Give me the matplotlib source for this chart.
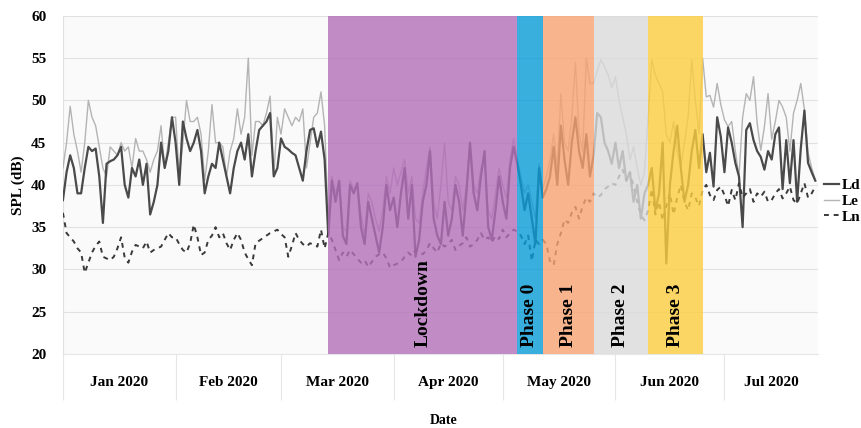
import numpy as np
import pandas as pd
import matplotlib
matplotlib.use('Agg')
import matplotlib.pyplot as plt
import matplotlib.dates as mdates

plt.rcParams['font.family'] = ['Liberation Serif', 'DejaVu Serif']
plt.rcParams['font.weight'] = 'bold'

# daily values, 1 Jan 2020 .. 26 Jul 2020
start_date = '2020-01-01'

ld = [
    # Jan
    38.2, 41.5, 43.5, 42.0, 39.0, 39.0, 42.0, 44.5, 44.0, 44.3, 41.0, 35.5, 42.5, 42.8, 43.0, 43.5,
    44.5, 40.0, 38.5, 42.0, 41.0, 43.0, 40.0, 42.5, 36.5, 38.0, 40.0, 45.0, 42.0, 44.0, 48.0,
    # Feb
    45.0, 40.0, 47.5, 45.5, 44.0, 45.0, 46.5, 44.0, 39.0, 41.0, 42.5, 42.0, 45.0, 43.0, 41.0,
    39.0, 42.0, 44.0, 45.0, 43.0, 46.0, 41.0, 44.0, 46.5, 47.0, 47.5, 48.5, 41.0, 42.0,
    # Mar 1-13
    45.5, 44.5, 44.2, 43.8, 43.5, 42.0, 40.5, 44.0, 46.5, 46.7, 44.5, 46.3, 43.0,
    # lockdown
    34.0, 40.5, 38.0, 40.5, 34.0, 33.0, 40.0, 39.0, 40.2, 35.0, 33.0, 38.0, 36.0, 34.0, 32.0,
    35.0, 40.0, 37.0, 38.5, 35.0, 39.0, 42.0, 36.0, 40.0, 31.5, 33.5, 38.0, 40.0, 44.0, 36.0,
    34.0, 33.0, 38.0, 34.0, 36.0, 40.0, 38.0, 34.0, 39.0, 45.0, 39.0, 37.0, 41.0, 44.0, 35.0,
    33.5, 37.0, 41.0, 38.0, 36.0, 42.0, 44.5,
    # phase 0
    42.5, 40.0, 37.0, 39.0, 36.0, 33.0, 42.0,
    # phase 1
    38.5, 39.5, 41.0, 44.5, 40.0, 47.0, 43.0, 40.0, 45.0, 48.0, 44.0, 42.0, 46.0, 41.0,
    # phase 2
    43.5, 48.5, 48.0, 45.0, 44.0, 42.5, 45.0, 42.0, 44.0, 40.5, 41.5, 38.0, 40.0, 36.0, 39.0,
    # phase 3
    40.0, 42.0, 37.0, 39.0, 45.0, 30.7, 40.0, 44.0, 47.0, 42.0, 38.0, 40.0, 44.0, 46.5, 42.0,
    # after
    46.0, 41.5, 43.8, 39.8, 48.0, 45.7, 41.5, 46.8, 45.0, 42.6, 41.0, 35.0, 46.5, 47.3, 45.3,
    44.0, 43.3, 41.8, 44.0, 43.0, 46.0, 46.8, 39.5, 45.3, 40.2, 45.3, 38.0, 44.3, 48.8, 42.6,
    41.5, 40.5,
]

le = [
    # Jan
    42.0, 45.0, 49.3, 46.0, 44.0, 41.5, 45.0, 50.0, 48.0, 47.0, 44.5, 42.0, 41.0, 44.5, 44.0, 43.5,
    45.0, 44.0, 44.5, 42.0, 45.5, 44.0, 44.0, 43.0, 41.5, 43.0, 44.0, 47.0, 42.0, 45.0, 48.0,
    # Feb
    48.0, 41.0, 45.0, 50.0, 47.5, 47.5, 48.0, 46.0, 40.5, 44.0, 49.5, 45.0, 45.0, 44.5, 41.0,
    44.0, 45.5, 49.0, 46.0, 48.0, 55.0, 43.5, 47.5, 47.5, 47.0, 48.5, 50.5, 41.0, 48.0,
    # Mar 1-13
    46.0, 49.0, 48.0, 47.0, 48.0, 47.5, 49.0, 42.0, 45.0, 48.0, 48.5, 51.0, 47.0,
    # lockdown
    36.0, 41.0, 39.0, 40.5, 35.0, 34.5, 40.5, 39.5, 40.0, 36.5, 34.0, 39.0, 38.0, 36.0, 34.5,
    37.0, 41.0, 39.0, 42.0, 40.0, 41.5, 43.0, 39.0, 41.0, 36.0, 35.5, 39.0, 42.0, 44.5, 38.0,
    36.0, 40.0, 45.0, 38.0, 37.0, 41.0, 40.0, 37.0, 40.0, 45.0, 40.0, 39.0, 42.0, 43.0, 37.0,
    36.0, 39.0, 42.0, 40.0, 38.5, 43.0, 45.5,
    # phase 0
    43.0, 41.0, 39.0, 40.0, 38.0, 36.0, 42.5,
    # phase 1
    39.5, 41.0, 43.0, 46.0, 42.0, 50.8, 45.0, 44.0, 48.0, 54.5, 46.0, 44.0, 55.0, 52.0,
    # phase 2
    52.0, 53.5, 54.8, 54.0, 53.0, 51.5, 52.8, 50.0, 48.0, 46.0, 43.0, 44.5, 42.0, 40.0, 41.5,
    # phase 3
    48.0, 54.8, 53.0, 52.0, 51.0, 46.0, 45.0, 47.5, 44.0, 42.0, 45.0, 48.0, 54.8, 50.0, 46.0,
    # after
    55.0, 50.4, 50.6, 49.2, 52.0, 49.5, 47.7, 46.9, 47.5, 44.0, 41.0, 48.0, 50.8, 50.0, 52.8,
    47.3, 44.1, 46.9, 50.8, 45.4, 47.5, 50.0, 49.2, 48.0, 44.0, 48.5, 50.0, 52.0, 48.9, 43.8,
    42.0, 40.6,
]

ln = [
    # Jan
    36.7, 34.3, 33.8, 33.3, 32.5, 32.0, 29.6, 30.8, 32.0, 32.8, 33.3, 31.5, 31.3, 31.1, 31.5, 32.5,
    33.8, 31.4, 30.8, 32.1, 32.9, 32.7, 32.5, 33.3, 32.0, 32.3, 32.5, 32.7, 33.5, 34.3, 33.8,
    # Feb
    33.8, 33.0, 32.3, 32.0, 33.1, 35.3, 33.8, 31.7, 32.0, 33.5, 34.0, 35.0, 33.8, 34.3, 33.1,
    32.3, 33.5, 34.3, 33.5, 32.0, 31.2, 30.5, 33.1, 33.4, 33.7, 34.0, 34.3, 34.5, 34.7,
    # Mar 1-13
    34.2, 33.8, 31.5, 32.8, 34.3, 33.5, 33.0, 32.7, 33.1, 32.9, 32.7, 34.7, 32.5,
    # lockdown
    34.3, 33.5, 32.3, 31.1, 32.0, 31.5, 32.3, 31.8, 31.3, 30.8, 31.1, 30.3, 30.9, 31.5, 31.8,
    32.0, 31.3, 30.2, 30.5, 30.7, 30.9, 31.5, 32.0, 31.6, 32.3, 32.0, 31.8, 32.3, 33.1, 32.5,
    32.0, 33.1, 32.7, 33.0, 33.5, 32.3, 32.8, 33.1, 33.8, 32.7, 33.0, 33.5, 34.3, 33.5, 33.8,
    33.2, 34.0, 33.6, 34.7, 33.8, 34.3, 34.7,
    # phase 0
    34.5, 34.0, 33.0, 34.0, 31.0, 33.5, 33.0,
    # phase 1
    33.5, 33.0, 31.0, 30.5, 33.0, 34.3, 35.9, 35.5, 36.7, 37.4, 36.0, 37.5, 38.5, 38.0,
    # phase 2
    39.0, 38.5, 38.8, 39.5, 39.8, 40.2, 40.0, 41.0, 41.8, 40.5, 41.5, 39.8, 38.0, 36.5, 35.8,
    # phase 3
    37.0, 39.5, 36.5, 38.0, 35.8, 37.5, 39.0, 36.5, 38.5, 40.0, 38.0, 37.0, 39.0, 38.5, 37.5,
    # after
    39.4, 40.0, 38.8, 38.2, 39.4, 39.8, 38.8, 37.5, 39.4, 38.2, 40.2, 38.5, 39.0, 39.5, 38.0,
    39.0, 38.6, 39.2, 38.0, 38.2, 39.0, 39.5, 38.4, 39.0, 39.8, 38.2, 37.8, 39.0, 40.2, 38.5,
    39.0, 39.8,
]

# periods (start, end, label, colour)
period_labels = ['Lockdown', 'Phase 0', 'Phase 1', 'Phase 2', 'Phase 3']
period_start = ['2020-03-14', '2020-05-05', '2020-05-12', '2020-05-26', '2020-06-10']
period_end = ['2020-05-05', '2020-05-12', '2020-05-26', '2020-06-10', '2020-06-25']
period_colors = ['#B36FBA', '#099CD8', '#F8A472', '#DBDBDB', '#FCCE40']

dates = pd.date_range(start_date, periods=len(ld), freq='D')

fig = plt.figure(figsize=(8.62, 4.28), dpi=100)
ax = fig.add_axes([0.073, 0.173, 0.876, 0.790])
ax.set_facecolor('#FAFAFA')

ax.plot(dates, le, color='#B4B4B4', lw=1.0, label='Le', zorder=3)
ax.plot(dates, ld, color='#4A4A4A', lw=1.6, label='Ld', zorder=4)
ax.plot(dates, ln, color='#3A3A3A', lw=1.4, ls=(0, (2.5, 2.5)), label='Ln', zorder=4)

for lab, s, e, c in zip(period_labels, period_start, period_end, period_colors):
    s, e = pd.Timestamp(s), pd.Timestamp(e)
    ax.axvspan(s, e, color=c, alpha=0.8, lw=0, zorder=5)
    mid = s + (e - s) / 2
    ax.text(mid, 20.8, lab, rotation=90, ha='center', va='bottom',
            fontsize=14, fontweight='bold', color='black', zorder=6)

xmin = pd.Timestamp(start_date)
xmax = dates[-1] + pd.Timedelta(hours=18)
ax.set_xlim(xmin, xmax)
ax.set_ylim(20, 60)
ax.set_yticks(range(20, 61, 5))
ax.grid(axis='y', color='#E2E2E2', lw=0.8, zorder=0)

# month separators as long major ticks, month names centred as minor ticks
month_starts = list(pd.date_range('2020-01-01', '2020-07-01', freq='MS'))
edges = month_starts + [xmax]
centres = [a + (b - a) / 2 for a, b in zip(edges[:-1], edges[1:])]
ax.set_xticks(month_starts)
ax.set_xticklabels([])
ax.tick_params(axis='x', which='major', length=33, width=0.8, color='#E6E6E6')
ax.set_xticks(centres, minor=True)
ax.set_xticklabels([d.strftime('%b %Y') for d in centres], minor=True)
ax.tick_params(axis='x', which='minor', length=0, pad=16, labelsize=11)
ax.tick_params(axis='y', length=0, labelsize=11, pad=12)
for t in ax.get_xticklabels(minor=True) + ax.get_yticklabels():
    t.set_fontweight('bold')

for sp in ['top', 'right']:
    ax.spines[sp].set_visible(False)
ax.spines['left'].set_color('#E0E0E0')
ax.spines['bottom'].set_color('#E6E6E6')

ax.set_ylabel('SPL (dB)', fontsize=11, fontweight='bold', labelpad=4)
fig.text(444 / 862, 1 - 421 / 428, 'Date', ha='center', va='center',
         fontsize=10, fontweight='bold')

handles, labels = ax.get_legend_handles_labels()
order = [1, 0, 2]
fig.legend([handles[i] for i in order], [labels[i] for i in order],
           loc='center left', bbox_to_anchor=(824 / 862, 1 - 201 / 428),
           frameon=False, handlelength=1.0, handletextpad=0.15,
           labelspacing=0.15, borderaxespad=0, borderpad=0,
           prop={'weight': 'bold', 'size': 11})

fig.savefig('out.png', dpi=100)
